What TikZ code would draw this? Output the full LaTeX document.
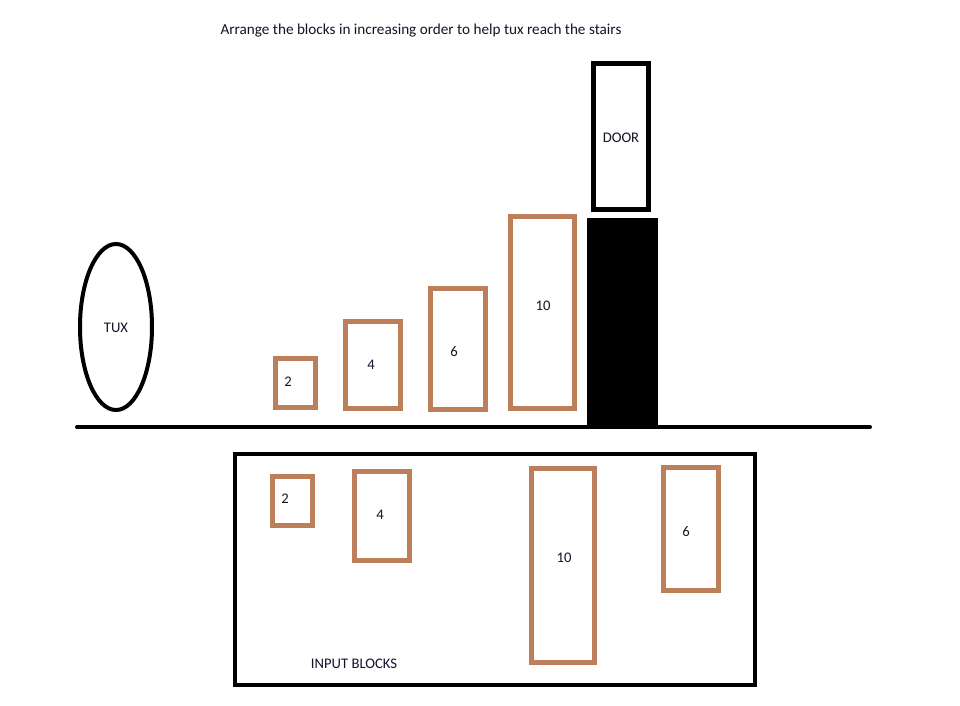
\documentclass[tikz,border=0pt]{standalone}
\usepackage{fontspec}
\setmainfont{Carlito}
\usetikzlibrary{shapes.geometric}
\definecolor{blockbrown}{RGB}{189,126,91}
\definecolor{txt}{RGB}{20,20,40}
\begin{document}
\begin{tikzpicture}[x=0.75pt,y=-0.75pt,
  blk/.style={draw=blockbrown,line width=3.75pt,inner sep=0pt},
  lbl/.style={text=txt,font=\fontsize{11}{13}\selectfont,inner sep=0pt},
  blackline/.style={draw=black,line width=3pt}]
\useasboundingbox[fill=white] (0,0) rectangle (960,706);
% title
\node[lbl,font=\fontsize{11.4}{13}\selectfont] (title) at (421,31) {Arrange the blocks in increasing order to help tux reach the stairs};
% tux
\node[draw=black,line width=3pt,ellipse,minimum width=54pt,minimum height=124.5pt,inner sep=0pt] (tux) at (116,327) {};
\node[lbl] (tuxl) at (116,328) {TUX};
% ground
\coordinate (g1) at (77,427);
\coordinate (g2) at (870,427);
\draw[blackline,line cap=round] (g1) -- (g2);
% stairs blocks
\draw[blk] (275.5,358.5) rectangle (315.5,407.5);
\node[lbl] (s2) at (288,382) {2};
\draw[blk] (345.5,321.5) rectangle (400.5,408.5);
\node[lbl] (s4) at (371,365) {4};
\draw[blk] (430.5,288.5) rectangle (485.5,409.5);
\node[lbl] (s6) at (454,352) {6};
\draw[blk] (510.5,216.5) rectangle (574.5,408.5);
\node[lbl] (s10) at (543,306) {10};
% platform and door
\fill[black] (587,218) rectangle (658,425);
\draw[draw=black,line width=3.75pt] (593.5,63.5) rectangle (648.5,209.5);
\node[lbl] (door) at (621,138) {DOOR};
% input box
\draw[blackline] (235,454) rectangle (755,685);
\node[lbl] (inp) at (354,664) {INPUT BLOCKS};
\draw[blk] (272.5,476.5) rectangle (312.5,525.5);
\node[lbl] (i2) at (285,499) {2};
\draw[blk] (354.5,471.5) rectangle (409.5,560.5);
\node[lbl] (i4) at (380,515) {4};
\draw[blk] (531.5,468.5) rectangle (594.5,662.5);
\node[lbl] (i10) at (564,558) {10};
\draw[blk] (663.5,467.5) rectangle (718.5,590.5);
\node[lbl] (i6) at (686,532) {6};
\end{tikzpicture}
\end{document}
